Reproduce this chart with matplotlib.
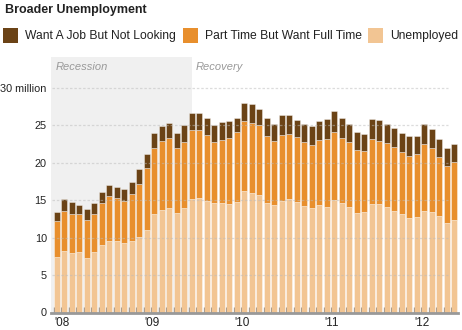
import matplotlib
matplotlib.use("Agg")
import matplotlib.pyplot as plt
from matplotlib.patches import Rectangle

plt.rcParams['font.family'] = ['Liberation Sans', 'DejaVu Sans']

# monthly figures in millions, Jan 2008 - Jun 2012
unemployed = [7.4, 8.2, 8.0, 8.1, 7.3, 8.1, 9.0, 9.5, 9.6, 9.3, 9.6, 10.1,
              11.0, 13.1, 13.7, 14.0, 13.3, 14.0, 15.1, 15.3, 14.9, 14.6, 14.6, 14.5,
              14.8, 16.2, 16.0, 15.7, 14.6, 14.3, 14.9, 15.1, 14.8, 14.2, 14.0, 14.3,
              14.1, 15.0, 14.6, 14.1, 13.3, 13.4, 14.5, 14.5, 14.1, 13.6, 13.2, 12.6,
              12.8, 13.6, 13.4, 12.9, 12.0, 12.3]
part_time = [4.8, 5.3, 5.1, 5.0, 5.1, 5.1, 5.6, 6.0, 5.7, 5.6, 6.2, 7.1,
             8.3, 8.8, 9.2, 9.3, 8.6, 8.8, 9.3, 9.0, 8.8, 8.2, 8.4, 8.8,
             9.3, 9.3, 9.3, 9.3, 8.9, 8.6, 8.8, 8.7, 8.6, 8.5, 8.3, 8.7,
             9.1, 9.1, 8.7, 8.7, 8.4, 8.2, 8.7, 8.4, 8.5, 8.5, 8.2, 8.3,
             8.3, 8.9, 8.5, 7.8, 7.6, 7.8]
not_looking = [1.2, 1.7, 1.6, 1.3, 1.4, 1.4, 1.5, 1.5, 1.5, 1.6, 1.6, 1.9,
               1.9, 2.1, 2.0, 2.0, 2.0, 2.2, 2.2, 2.3, 2.2, 2.2, 2.4, 2.3,
               1.9, 2.5, 2.5, 2.2, 2.4, 2.2, 2.6, 2.6, 2.3, 2.5, 2.6, 2.5,
               2.6, 2.8, 2.7, 2.4, 2.4, 2.2, 2.6, 2.8, 2.5, 2.5, 2.5, 2.6,
               2.5, 2.7, 2.6, 2.4, 2.4, 2.4]
year_labels = ["'08", "'09", "'10", "'11", "'12"]
y_ticks = [0, 5, 10, 15, 20, 25, 30]
y_labels = ["0", "5", "10", "15", "20", "25", "30 million"]
series_names = ["Want A Job But Not Looking", "Part Time But Want Full Time", "Unemployed"]

c_dark = "#6b4316"
c_mid = "#e88f2d"
c_light = "#f2c593"

fig = plt.figure(figsize=(4.62, 3.30), dpi=100)
ax = fig.add_axes([51 / 462, 17.5 / 330, 407 / 462, 255.5 / 330])

months = list(range(len(unemployed)))
mid_base = unemployed
top_base = [u + p for u, p in zip(unemployed, part_time)]

ax.axvspan(-1, 18.4, color="#f0f0f0", zorder=0, lw=0)

edge = (1, 1, 1, 0.55)
ax.bar(months, unemployed, width=0.8, align="edge", color=c_light,
       edgecolor=edge, linewidth=0.5, zorder=2)
ax.bar(months, part_time, bottom=mid_base, width=0.8, align="edge", color=c_mid,
       edgecolor=edge, linewidth=0.5, zorder=2)
ax.bar(months, not_looking, bottom=top_base, width=0.8, align="edge", color=c_dark,
       edgecolor=edge, linewidth=0.5, zorder=2)

# dotted guide lines, faintly visible through the bars
for y in y_ticks[1:]:
    ax.hlines(y, -0.2, 52.5, colors="#bbbbbb", linestyles=(0, (2, 1.5)),
              linewidth=0.9, alpha=0.5, zorder=3)

ax.set_xlim(-0.4, 53.87)
ax.set_ylim(0, 34.07)

for s in ["top", "right", "left"]:
    ax.spines[s].set_visible(False)
ax.spines["bottom"].set_color("#999999")
ax.spines["bottom"].set_linewidth(2)
ax.spines["bottom"].set_zorder(4)

ax.set_yticks(y_ticks)
ax.set_yticklabels(y_labels, fontsize=7.8, color="#222222")
ax.tick_params(axis="y", length=0, pad=3)

ax.set_xticks(months)
ax.set_xticklabels([])
ax.tick_params(axis="x", direction="in", length=4, width=0.8, color="black")

for k, lab in enumerate(year_labels):
    ax.annotate(lab, xy=(12 * k, 0), xycoords=("data", "axes fraction"),
                xytext=(0.5, -3), textcoords="offset points", ha="left", va="top",
                fontsize=8.5, color="#222222")

ax.text(0.25, 32.7, "Recession", style="italic", fontsize=8, color="#999999",
        va="center", ha="left")
ax.text(18.9, 32.7, "Recovery", style="italic", fontsize=8, color="#999999",
        va="center", ha="left")

fig.text(5 / 462, 1 - 10 / 330, "Broader Unemployment", fontsize=9,
         fontweight="bold", va="center", ha="left", color="#222222")

legend_x = [3, 183, 368]
legend_c = [c_dark, c_mid, c_light]
for x0, col, name in zip(legend_x, legend_c, series_names):
    fig.patches.append(Rectangle((x0 / 462, 1 - 43 / 330), 15 / 462, 15 / 330,
                                 transform=fig.transFigure, facecolor=col,
                                 edgecolor="none"))
    fig.text((x0 + 22) / 462, 1 - 36 / 330, name, fontsize=8.7, va="center",
             ha="left", color="#222222")

fig.savefig("out.png", dpi=100)
